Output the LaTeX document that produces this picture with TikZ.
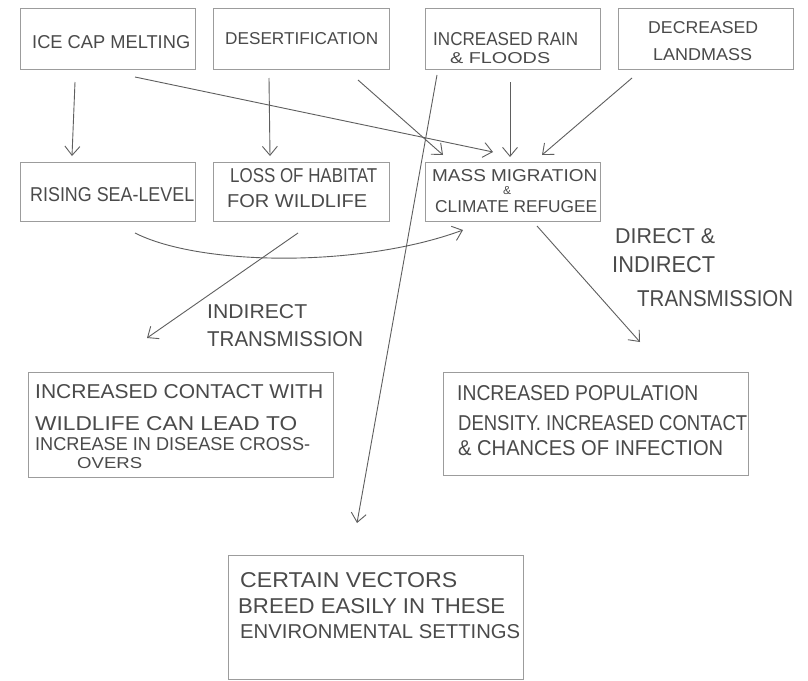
\documentclass[tikz,border=0pt]{standalone}
\usepackage{fontspec}
\setmainfont{Liberation Sans}
\usetikzlibrary{arrows.meta,calc}
\definecolor{pencil}{HTML}{4A4A4A}
\definecolor{boxline}{HTML}{9C9C9C}
\definecolor{arrline}{HTML}{5E5E5E}
\newcommand{\hw}[3]{\resizebox{#1pt}{#2pt}{#3}}
\begin{document}
\begin{tikzpicture}[x=1pt,y=-1pt,
  box/.style={draw=boxline, line width=0.9pt, anchor=north west, inner sep=0pt},
  txt/.style={anchor=base west, inner sep=0pt, text=pencil},
  arr/.style={draw=arrline, line width=0.9pt, -{Straight Barb[length=9pt,width=15pt,line width=0.9pt]}}]
\useasboundingbox (0,0) rectangle (808,680);
\fill[white] (0,0) rectangle (808,680);

% boxes
\node[box, minimum width=175pt, minimum height=61pt] (ice) at (20,8) {};
\node[box, minimum width=176pt, minimum height=61pt] (desert) at (213,8) {};
\node[box, minimum width=175pt, minimum height=61pt] (rain) at (425,8) {};
\node[box, minimum width=175pt, minimum height=61pt] (land) at (618,8) {};
\node[box, minimum width=175pt, minimum height=59pt] (rise) at (20,162) {};
\node[box, minimum width=176pt, minimum height=59pt] (habitat) at (213,162) {};
\node[box, minimum width=175pt, minimum height=59pt] (migr) at (425,162) {};
\node[box, minimum width=305pt, minimum height=105pt] (contact) at (28,372) {};
\node[box, minimum width=305pt, minimum height=103pt] (popul) at (443,372) {};
\node[box, minimum width=295pt, minimum height=124pt] (vectors) at (228,555) {};

% texts
\node[txt] (t1) at (32,48) {\hw{158}{13}{ICE CAP MELTING}};
\node[txt] (t2) at (225,45) {\hw{153}{12}{DESERTIFICATION}};
\node[txt] (t3) at (433,45) {\hw{145}{13}{INCREASED RAIN}};
\node[txt] (t4) at (450,63) {\hw{100}{11}{\& FLOODS}};
\node[txt] (t5) at (648,34) {\hw{110}{12}{DECREASED}};
\node[txt] (t6) at (653,60) {\hw{99}{12}{LANDMASS}};
\node[txt] (t7) at (30,201) {\hw{164}{14}{RISING SEA-LEVEL}};
\node[txt] (t8) at (230,182) {\hw{147}{14}{LOSS OF HABITAT}};
\node[txt] (t9) at (227,207) {\hw{140}{13}{FOR WILDLIFE}};
\node[txt] (t10) at (432,181) {\hw{165}{12}{MASS MIGRATION}};
\node[txt] (t11) at (503,194) {\hw{8}{8}{\&}};
\node[txt] (t12) at (435,212) {\hw{162}{12}{CLIMATE REFUGEE}};
\node[txt] (t13) at (207,318) {\hw{100}{14}{INDIRECT}};
\node[txt] (t14) at (207,346) {\hw{156}{15}{TRANSMISSION}};
\node[txt] (t15) at (615,243) {\hw{100}{15}{DIRECT \&}};
\node[txt] (t16) at (612,272) {\hw{103}{16}{INDIRECT}};
\node[txt] (t17) at (637,306) {\hw{156}{16}{TRANSMISSION}};
\node[txt] (t18) at (35,398) {\hw{288}{14}{INCREASED CONTACT WITH}};
\node[txt] (t19) at (35,430) {\hw{262}{14}{WILDLIFE CAN LEAD TO}};
\node[txt] (t20) at (35,450) {\hw{275}{13}{INCREASE IN DISEASE CROSS-}};
\node[txt] (t21) at (77,468) {\hw{65}{11}{OVERS}};
\node[txt] (t22) at (457,400) {\hw{241}{15}{INCREASED POPULATION}};
\node[txt] (t23) at (458,430) {\hw{289}{15}{DENSITY. INCREASED CONTACT}};
\node[txt] (t24) at (458,455) {\hw{265}{15}{\& CHANCES OF INFECTION}};
\node[txt] (t25) at (240,587) {\hw{217}{15}{CERTAIN VECTORS}};
\node[txt] (t26) at (238,613) {\hw{267}{15}{BREED EASILY IN THESE}};
\node[txt] (t27) at (240,638) {\hw{280}{14}{ENVIRONMENTAL SETTINGS}};

% connector end points
\coordinate (a1s) at (75,82);   \coordinate (a1e) at (72,156);
\coordinate (a2s) at (269,78);  \coordinate (a2e) at (270,156);
\coordinate (a3s) at (135,77);  \coordinate (a3e) at (493,152);
\coordinate (a4s) at (358,80);  \coordinate (a4e) at (443,155);
\coordinate (a5s) at (510,82);  \coordinate (a5e) at (510,157);
\coordinate (a6s) at (632,78);  \coordinate (a6e) at (542,155);
\coordinate (a7s) at (437,75);  \coordinate (a7e) at (357,523);
\coordinate (a8s) at (135,233); \coordinate (a8e) at (463,230);
\coordinate (a9s) at (298,233); \coordinate (a9e) at (147,338);
\coordinate (a10s) at (537,226); \coordinate (a10e) at (640,342);

% connectors
\draw[arr] (a1s) -- (a1e);
\draw[arr] (a2s) -- (a2e);
\draw[arr] (a3s) -- (a3e);
\draw[arr] (a4s) -- (a4e);
\draw[arr] (a5s) -- (a5e);
\draw[arr] (a6s) -- (a6e);
\draw[arr] (a7s) -- (a7e);
\draw[arr] (a8s) .. controls (200,266) and (360,268) .. (a8e);
\draw[arr] (a9s) -- (a9e);
\draw[arr] (a10s) -- (a10e);
\end{tikzpicture}
\end{document}
